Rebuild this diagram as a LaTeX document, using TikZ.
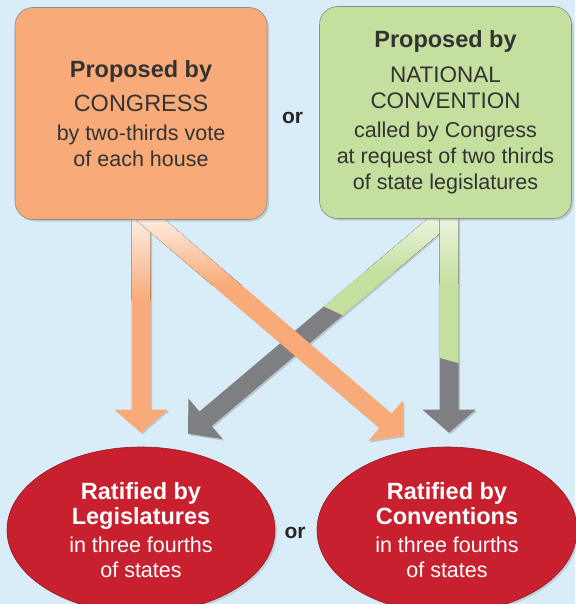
\documentclass[tikz,border=0pt]{standalone}
\usepackage{fontspec}
\setmainfont{Liberation Sans}
\usetikzlibrary{calc,shapes.geometric,shadows}

\definecolor{skyback}{HTML}{D8EDF8}
\definecolor{congressorange}{HTML}{F8AB78}
\definecolor{conventiongreen}{HTML}{C5DF9E}
\definecolor{ratifyred}{HTML}{C8202E}
\definecolor{arrowgrey}{HTML}{7E7F82}

\pgfdeclarelayer{backdrop}
\pgfdeclarelayer{arrowlayer}
\pgfsetlayers{backdrop,arrowlayer,main}

%% wide arrow with a head: #1 start, #2 tip, #3 look
\newcommand{\widearrow}[3]{%
  \path ($(#2)!23pt!(#1)$) coordinate (headbase);
  \path[#3] ($(#1)!9.5pt!90:(#2)$) -- ($(headbase)!9.5pt!-90:(#1)$)
    -- ($(headbase)!26.5pt!-90:(#1)$) -- (#2)
    -- ($(headbase)!26.5pt!90:(#1)$) -- ($(headbase)!9.5pt!90:(#1)$)
    -- ($(#1)!9.5pt!-90:(#2)$) -- cycle;}

\begin{document}
\begin{tikzpicture}[x=1pt,y=-1pt,
    proposal/.style={rectangle,rounded corners=18pt,draw=black!45,line width=.6pt,
      minimum width=252pt,minimum height=212pt,inner sep=0pt,align=center,text=black!80,
      font=\fontsize{21.5}{26}\selectfont,
      drop shadow={shadow xshift=2pt,shadow yshift=-2pt,opacity=.3}},
    ratify/.style={ellipse,fill=ratifyred,draw=ratifyred!75!black,line width=.6pt,
      minimum height=166pt,inner sep=0pt,align=center,text=white,
      font=\fontsize{21.5}{25}\selectfont,
      drop shadow={shadow xshift=2pt,shadow yshift=-2pt,opacity=.25}},
    orword/.style={font=\fontsize{21}{25}\bfseries,text=black!85},
    arrowshadow/.style={drop shadow={shadow xshift=1.5pt,shadow yshift=-1.5pt,opacity=.35}},
    orangefill/.style={arrowshadow,fill=congressorange},
    greyfill/.style={arrowshadow,fill=arrowgrey},
    orangefade/.style={top color=congressorange!22!white,bottom color=congressorange},
    greenfade/.style={top color=conventiongreen!35!white,bottom color=conventiongreen}]

  %% frame of the picture, with the pale blue behind everything
  \useasboundingbox (0,0) rectangle (575,604);
  \begin{pgfonlayer}{backdrop}
    \fill[skyback] (0,0) rectangle (575,604);
  \end{pgfonlayer}

  %% the two ways to propose
  \node[proposal,fill=congressorange] (congress) at (141,113.5)
    {{\fontsize{23.5}{26}\bfseries Proposed by}\\[8pt]
     {\fontsize{23.5}{26}\selectfont CONGRESS}\\[3pt]
     by two-thirds vote\\
     of each house};
  \node[proposal,fill=conventiongreen] (natconv) at (445.5,112.5)
    {{\fontsize{23.5}{26}\bfseries Proposed by}\\[9pt]
     {\fontsize{22.5}{26}\selectfont NATIONAL}\\
     {\fontsize{22.5}{26}\selectfont CONVENTION}\\[3pt]
     called by Congress\\
     at request of two thirds\\
     of state legislatures};
  \node[orword] (ortop) at (292.5,118) {or};

  %% the two ways to ratify
  \node[ratify,minimum width=268pt] (legis) at (141,530)
    {{\fontsize{23.5}{25}\bfseries Ratified by}\\
     {\fontsize{23.5}{25}\bfseries Legislatures}\\[3pt]
     in three fourths\\
     of states};
  \node[ratify,minimum width=260pt] (conv) at (447,530)
    {{\fontsize{23.5}{25}\bfseries Ratified by}\\
     {\fontsize{23.5}{25}\bfseries Conventions}\\[3pt]
     in three fourths\\
     of states};
  \node[orword] (orbottom) at (295,533) {or};

  %% start and tip of every arrow
  \coordinate (o1s) at ([yshift=20pt]congress.south);
  \coordinate (o1t) at ([yshift=14pt]legis.north);
  \coordinate (o2s) at ([xshift=-14pt,yshift=20pt]congress.south);
  \coordinate (o2t) at ([xshift=-44pt,yshift=11pt]conv.north);
  \coordinate (g1s) at ([xshift=18pt,yshift=18pt]natconv.south);
  \coordinate (g1t) at ([xshift=47pt,yshift=13pt]legis.north);
  \coordinate (g2s) at ([xshift=3.5pt,yshift=18pt]natconv.south);
  \coordinate (g2t) at ([xshift=2pt,yshift=14pt]conv.north);

  \begin{pgfonlayer}{arrowlayer}
    %% convention arrows: grey, green towards the box
    \widearrow{g1s}{g1t}{greyfill}
    \begin{scope}
      \clip (300,150) -- (480,150) -- (480,380) -- (300,295.2) -- cycle;
      \widearrow{g1s}{g1t}{clip}
      \fill[greenfade] (180,218) rectangle (480,272);
      \fill[conventiongreen] (180,271) rectangle (480,400);
    \end{scope}
    \widearrow{g2s}{g2t}{greyfill}
    \begin{scope}
      \clip (400,150) -- (500,150) -- (500,374.7) -- (400,346.9) -- cycle;
      \widearrow{g2s}{g2t}{clip}
      \fill[greenfade] (400,218) rectangle (500,285);
      \fill[conventiongreen] (400,284) rectangle (500,400);
    \end{scope}
    %% congress arrows, the slanted one lies on top
    \widearrow{o1s}{o1t}{orangefill}
    \begin{scope}
      \widearrow{o1s}{o1t}{clip}
      \fill[orangefade] (100,218) rectangle (200,300);
    \end{scope}
    \widearrow{o2s}{o2t}{orangefill}
    \begin{scope}
      \widearrow{o2s}{o2t}{clip}
      \fill[orangefade] (100,218) rectangle (260,285);
    \end{scope}
  \end{pgfonlayer}
\end{tikzpicture}
\end{document}
